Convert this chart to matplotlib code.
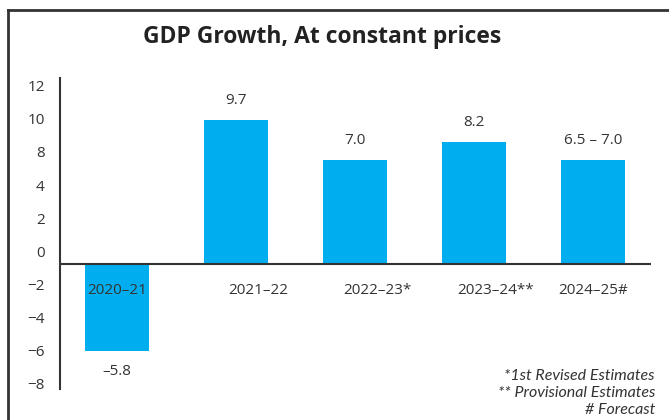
import matplotlib
matplotlib.use("Agg")
import matplotlib.pyplot as plt
import numpy as np

# ── data ────────────────────────────────────────────────────────────
years = ["2020–21", "2021–22", "2022–23*", "2023–24**", "2024–25#"]
growth = [-5.8, 9.7, 7.0, 8.2, 7.0]
value_labels = ["–5.8", "9.7", "7.0", "8.2", "6.5 – 7.0"]
# y-axis labels as printed in the source (note: no "6")
ytick_labels = ["12", "10", "8", "4", "2", "0", "−2", "−4", "−6", "−8"]
footnotes = ["*1st Revised Estimates", "** Provisional Estimates", "# Forecast"]

BAR = "#00AEEF"
INK = "#333333"

plt.rcParams["font.family"] = ["Open Sans", "DejaVu Sans"]

fig = plt.figure(figsize=(6.69, 4.2), dpi=100)
ax = fig.add_axes([60 / 669, 1 - 389 / 420, (651 - 60) / 669, (389 - 78) / 420])

x = np.arange(len(years))
ax.bar(x, growth, width=0.54, color=BAR, zorder=2)
ax.axhline(0, color=INK, lw=1.5, zorder=3)

ax.set_xlim(-0.479, 4.487)
ax.set_ylim(-8.36, 12.52)

# value labels
for xi, v, lab in zip(x, growth, value_labels):
    off = 14 if v >= 0 else -15
    ax.annotate(lab, (xi, v), xytext=(0, off), textcoords="offset points",
                ha="center", va="center", fontsize=11, color=INK)

# category labels (a few sit a little right of their bar, as in the source)
label_shift = [0, 0.185, 0.185, 0.185, 0]
for xi, name, s in zip(x, years, label_shift):
    ax.annotate(name, (xi + s, 0), xytext=(0, -19), textcoords="offset points",
                ha="center", va="center", fontsize=11, color=INK)

ax.set_xticks([])
ax.set_yticks(np.linspace(12, -8, len(ytick_labels)))
ax.set_yticklabels(ytick_labels, fontsize=11, color=INK)
ax.tick_params(axis="y", length=0, pad=11)

for side in ("top", "right", "bottom"):
    ax.spines[side].set_visible(False)
ax.spines["left"].set_color(INK)
ax.spines["left"].set_linewidth(1.5)

fig.text(322 / 669, 1 - 37 / 420, "GDP Growth, At constant prices",
         ha="center", va="center", fontsize=16.5, fontweight="bold", color="#222222")

for i, note in enumerate(footnotes):
    fig.text(655 / 669, 1 - (376 + 17 * i) / 420, note, ha="right", va="center",
             fontsize=11.5, style="italic", color=INK, family=["Lato", "DejaVu Sans"])

# frame: top and left rules only
fig.add_artist(plt.Line2D([8 / 669, 1], [1 - 10 / 420] * 2, color=INK, lw=2))
fig.add_artist(plt.Line2D([8 / 669] * 2, [0, 1 - 10 / 420], color=INK, lw=2))

fig.savefig("out.png", dpi=100)
